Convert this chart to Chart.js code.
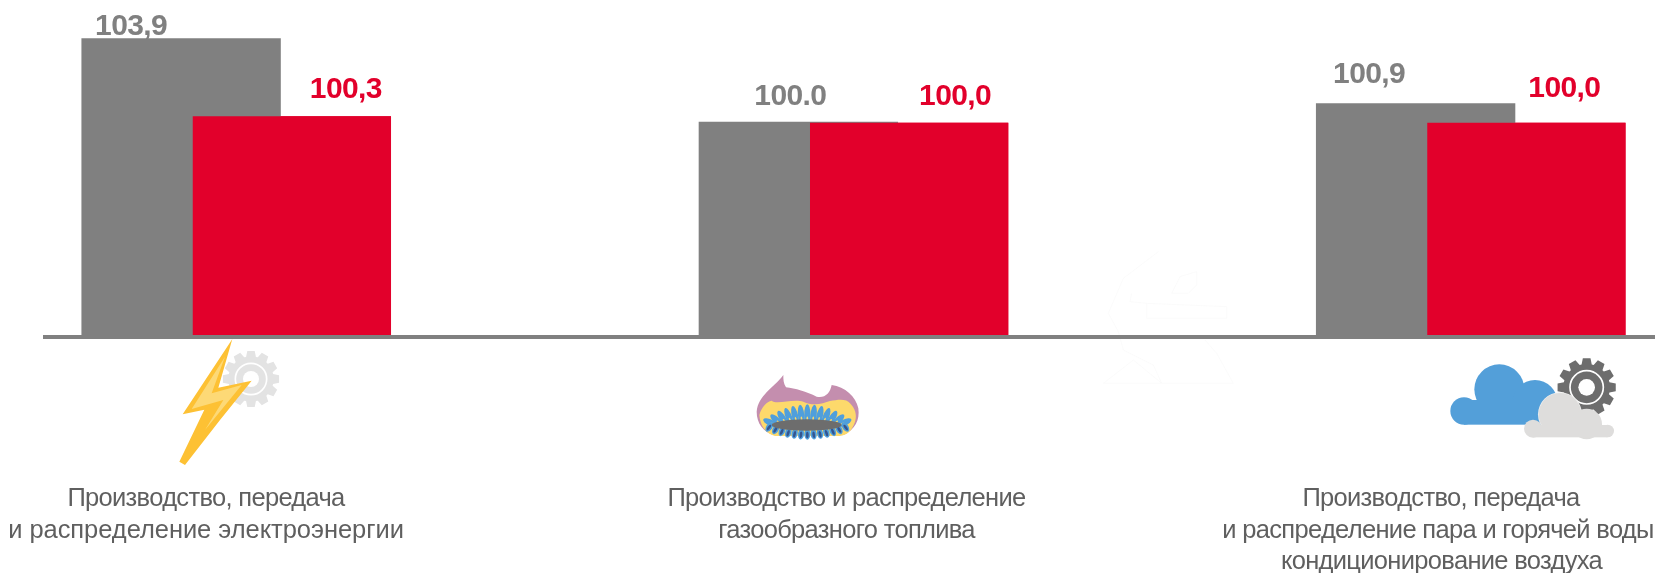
<!DOCTYPE html>
<html lang="ru">
<head>
<meta charset="utf-8">
<title>Индексы производства</title>
<style>
  html, body { margin: 0; background: #fff; overflow: hidden; }
  canvas { display: block; }
</style>
</head>
<body>
<canvas id="chart" width="1655" height="573"></canvas>
<script src="https://cdn.jsdelivr.net/npm/chart.js@4"></script>
<script>
// Данные
const categories = [
  ['Производство, передача', 'и распределение электроэнергии'],
  ['Производство и распределение', 'газообразного топлива'],
  ['Производство, передача', 'и распределение пара и горячей воды', 'кондиционирование воздуха']
];
const greyValues = [103.9, 100.04, 100.9];
const redValues = [100.3, 100.0, 100.0];
const greyLabels = ['103,9', '100.0', '100,9'];
const redLabels = ['100,3', '100,0', '100,0'];
const axisMin = 90.2;
const axisMax = 105.66;

// Сдвиг подписей относительно столбцов: в сторону и вверх
const greyShiftX = [-50, -8, -46.5];
const greyLift = [3, 16.7, 20];
const redShiftX = [54, 46, 38];
const redLift = [18.6, 17.7, 25.5];

// Центры строк и базовые линии подписей категорий
const captionX = [[206, 206], [846.5, 846.5], [1441, 1438, 1441.5]];
const captionSpacing = [['-0.68px', '-0.05px'], ['-0.68px', '-0.68px'], ['-0.68px', '-0.68px', '-0.68px']];
const captionY = 506;
const captionLeading = 31.5;

const GREY = '#808080';
const RED = '#E2002B';
const TEXT = '#5F5F5F';

function poly(ctx, pts, color) {
  ctx.beginPath();
  pts.forEach((p, i) => i ? ctx.lineTo(p[0], p[1]) : ctx.moveTo(p[0], p[1]));
  ctx.closePath();
  ctx.fillStyle = color;
  ctx.fill();
}

function circle(ctx, x, y, r, color) {
  ctx.beginPath();
  ctx.arc(x, y, r, 0, Math.PI * 2);
  ctx.fillStyle = color;
  ctx.fill();
}

function gear(ctx, x, y, outer, root, teeth, color) {
  const step = Math.PI * 2 / teeth;
  ctx.beginPath();
  for (let i = 0; i < teeth; i++) {
    const a = i * step - Math.PI / 2;
    [[-0.42, root], [-0.25, outer], [0.25, outer], [0.42, root]].forEach(([k, r]) => {
      ctx.lineTo(x + Math.cos(a + k * step) * r, y + Math.sin(a + k * step) * r);
    });
  }
  ctx.closePath();
  ctx.fillStyle = color;
  ctx.fill();
}

function gearRings(ctx, x, y, r, hole) {
  ctx.beginPath();
  ctx.arc(x, y, r, 0, Math.PI * 2);
  ctx.strokeStyle = '#fff';
  ctx.lineWidth = 5;
  ctx.stroke();
  circle(ctx, x, y, hole, '#fff');
}

// Иконки рисуются в координатах увеличенного в 3 раза фрагмента
function withCrop(ctx, x, y, fn) {
  ctx.save();
  ctx.translate(x, y);
  ctx.scale(1 / 3, 1 / 3);
  fn();
  ctx.restore();
}

function drawLightning(ctx) {
  withCrop(ctx, 170, 335, () => {
    gear(ctx, 243, 132, 85, 68, 12, '#E3E3E3');
    gearRings(ctx, 243, 132, 47, 24);
    poly(ctx, [[187, 12], [38, 238], [103, 224], [28, 380], [45, 390], [150, 255], [245, 137], [145, 158]], '#FDC134');
    poly(ctx, [[165, 65], [65, 222], [160, 195], [105, 285], [215, 150], [125, 175]], '#FDD976');
  });
}

function drawBurner(ctx) {
  withCrop(ctx, 750, 370, () => {
    ctx.beginPath();
    ctx.moveTo(100, 15);
    ctx.bezierCurveTo(70, 55, 25, 75, 20, 125);
    ctx.bezierCurveTo(20, 160, 40, 185, 70, 195);
    ctx.lineTo(280, 195);
    ctx.bezierCurveTo(315, 180, 330, 150, 325, 115);
    ctx.bezierCurveTo(318, 80, 285, 50, 245, 45);
    ctx.bezierCurveTo(240, 70, 225, 85, 200, 80);
    ctx.bezierCurveTo(170, 65, 135, 55, 108, 52);
    ctx.bezierCurveTo(100, 40, 100, 28, 100, 15);
    ctx.closePath();
    ctx.fillStyle = '#C48EAE';
    ctx.fill();

    ctx.beginPath();
    ctx.moveTo(28, 135);
    ctx.bezierCurveTo(35, 110, 50, 95, 65, 92);
    ctx.bezierCurveTo(80, 105, 130, 85, 160, 95);
    ctx.bezierCurveTo(190, 110, 220, 100, 240, 93);
    ctx.bezierCurveTo(265, 88, 290, 85, 300, 100);
    ctx.bezierCurveTo(315, 115, 322, 135, 315, 155);
    ctx.bezierCurveTo(305, 185, 290, 195, 270, 198);
    ctx.lineTo(75, 198);
    ctx.bezierCurveTo(45, 190, 30, 165, 28, 135);
    ctx.closePath();
    ctx.fillStyle = '#FDD96B';
    ctx.fill();

    // языки пламени
    for (let i = -6; i <= 6; i++) {
      const tipX = 172 + i * 22;
      const tipY = 103 + (i / 6) * (i / 6) * 45;
      const baseX = 172 + i * 15;
      const baseY = 168;
      const len = Math.hypot(tipX - baseX, tipY - baseY) / 2;
      ctx.save();
      ctx.translate((tipX + baseX) / 2, (tipY + baseY) / 2);
      ctx.rotate(Math.atan2(tipX - baseX, baseY - tipY));
      ctx.beginPath();
      ctx.ellipse(0, 0, 9.5, len, 0, 0, Math.PI * 2);
      ctx.fillStyle = '#4F9FDC';
      ctx.fill();
      ctx.beginPath();
      ctx.ellipse(0, len * 0.3, 2.5, 6, 0, 0, Math.PI * 2);
      ctx.fillStyle = '#FDD96B';
      ctx.fill();
      ctx.restore();
    }

    // нижний ряд горелки
    for (let i = -6; i <= 6; i++) {
      const x = 172 + i * 19;
      const y = 193 - (i / 6) * (i / 6) * 22;
      ctx.save();
      ctx.translate(x, y);
      ctx.rotate(-i * 0.1);
      ctx.beginPath();
      ctx.ellipse(0, 0, 9, 16, 0, 0, Math.PI * 2);
      ctx.fillStyle = '#4F9FDC';
      ctx.fill();
      ctx.beginPath();
      ctx.ellipse(0, 2, 4, 10, 0, 0, Math.PI * 2);
      ctx.fillStyle = '#35558F';
      ctx.fill();
      ctx.restore();
    }

    ctx.beginPath();
    ctx.ellipse(170, 165, 105, 17, 0, 0, Math.PI * 2);
    ctx.fillStyle = '#6D6D6D';
    ctx.fill();
  });
}

function drawClouds(ctx) {
  withCrop(ctx, 1440, 350, () => {
    gear(ctx, 440, 112, 88, 70, 12, '#6D6D6D');
    gearRings(ctx, 440, 112, 50, 25);

    const blue = '#539FD9';
    circle(ctx, 72, 183, 41, blue);
    circle(ctx, 178, 118, 75, blue);
    circle(ctx, 285, 158, 68, blue);
    ctx.fillStyle = blue;
    ctx.fillRect(72, 150, 250, 74);

    const light = '#DEDDDC';
    circle(ctx, 360, 193, 66, '#EFEFEF');
    circle(ctx, 360, 193, 64, light);
    circle(ctx, 440, 222, 46, light);
    circle(ctx, 279, 236, 27, light);
    circle(ctx, 503, 243, 19, light);
    ctx.fillStyle = light;
    ctx.fillRect(279, 225, 224, 37);
  });
}

// Едва заметный контур за линией оси
function drawGhost(ctx) {
  withCrop(ctx, 1090, 250, () => {
    ctx.strokeStyle = '#F9F9F9';
    ctx.lineWidth = 2;
    [
      [[205, 5], [100, 85], [55, 190], [85, 245], [100, 300], [190, 345], [215, 400], [430, 400], [380, 310], [345, 270]],
      [[125, 130], [120, 155], [170, 160], [410, 170], [410, 205], [170, 205], [170, 160]],
      [[245, 130], [270, 80], [320, 65], [320, 105], [295, 130], [245, 130]],
      [[40, 400], [215, 400], [130, 330], [40, 400]]
    ].forEach(line => {
      ctx.beginPath();
      line.forEach((p, i) => i ? ctx.lineTo(p[0], p[1]) : ctx.moveTo(p[0], p[1]));
      ctx.stroke();
    });
  });
}

const chartExtras = {
  id: 'chartExtras',
  beforeDatasetsDraw(chart) {
    drawGhost(chart.ctx);
  },
  afterDatasetsDraw(chart) {
    const ctx = chart.ctx;
    // красные столбцы должны лежать поверх серых
    chart.getDatasetMeta(1).controller.draw();

    // ось
    const baseY = chart.scales.y.bottom;
    ctx.fillStyle = '#808080';
    ctx.fillRect(43, baseY, 1612, 4);

    drawLightning(ctx);
    drawBurner(ctx);
    drawClouds(ctx);

    // подписи значений
    ctx.font = 'bold 30px "Liberation Sans"';
    ctx.letterSpacing = '-0.6px';
    ctx.textAlign = 'center';
    ctx.textBaseline = 'alphabetic';
    chart.getDatasetMeta(0).data.forEach((bar, i) => {
      ctx.fillStyle = GREY;
      ctx.fillText(greyLabels[i], bar.x + greyShiftX[i], bar.y - greyLift[i]);
    });
    chart.getDatasetMeta(1).data.forEach((bar, i) => {
      ctx.fillStyle = RED;
      ctx.fillText(redLabels[i], bar.x + redShiftX[i], bar.y - redLift[i]);
    });

    // подписи категорий
    ctx.font = '25.5px "Liberation Sans"';
    ctx.fillStyle = TEXT;
    categories.forEach((lines, i) => {
      lines.forEach((line, k) => {
        ctx.letterSpacing = captionSpacing[i][k];
        ctx.fillText(line, captionX[i][k], captionY + k * captionLeading);
      });
    });
    ctx.letterSpacing = '0px';
  }
};

new Chart(document.getElementById('chart').getContext('2d'), {
  type: 'bar',
  data: {
    labels: categories.map(lines => lines.join(' ')),
    datasets: [
      { label: 'Серый', data: greyValues, backgroundColor: GREY, clip: false, base: axisMin, barPercentage: 1.8 },
      { label: 'Красный', data: redValues, backgroundColor: RED, clip: false, base: axisMin, barPercentage: 1.79 }
    ]
  },
  options: {
    responsive: false,
    animation: false,
    devicePixelRatio: 1,
    categoryPercentage: 0.3589,
    layout: { padding: { left: 236.5, right: 184, top: 0, bottom: 238 } },
    plugins: { legend: { display: false }, tooltip: { enabled: false } },
    scales: {
      x: { display: false, offset: false },
      y: { display: false, min: axisMin, max: axisMax }
    }
  },
  plugins: [chartExtras]
});
</script>
</body>
</html>
